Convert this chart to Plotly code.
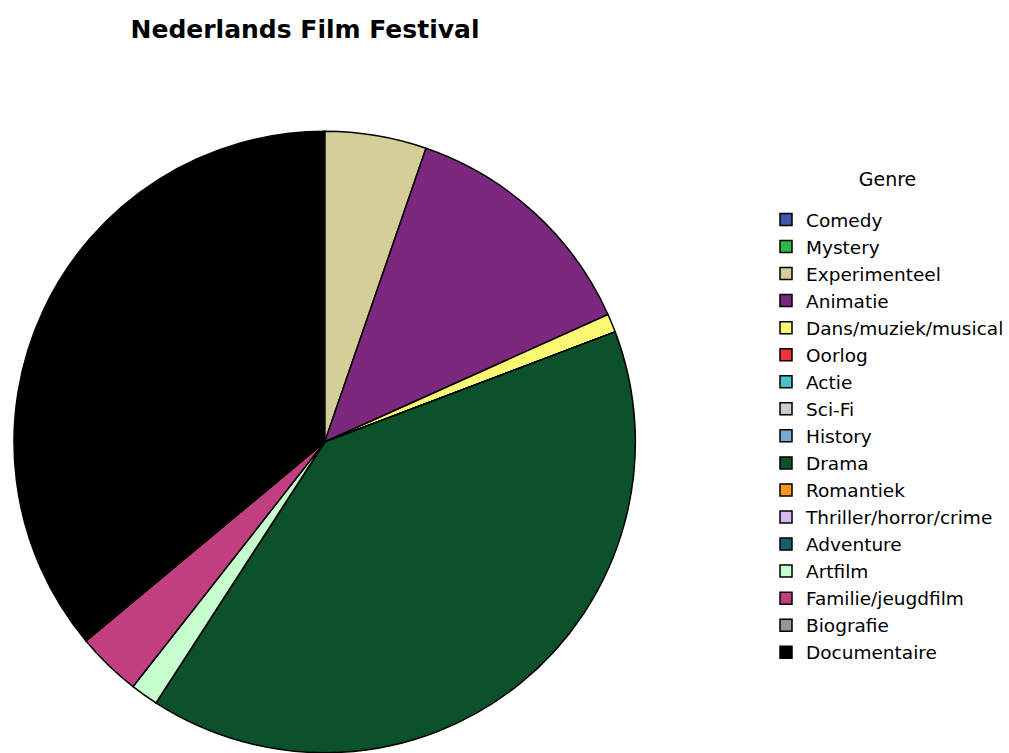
import plotly.graph_objects as go

genres = ["Comedy", "Mystery", "Experimenteel", "Animatie", "Dans/muziek/musical",
          "Oorlog", "Actie", "Sci-Fi", "History", "Drama", "Romantiek",
          "Thriller/horror/crime", "Adventure", "Artfilm", "Familie/jeugdfilm",
          "Biografie", "Documentaire"]
counts = [0, 0, 11, 27, 2, 0, 0, 0, 0, 83, 0, 0, 0, 3, 7, 0, 75]
colors = ["#3e58ac", "#2eb848", "#d4ce99", "#7b287e", "#fbf873", "#ef3338",
          "#48c2c5", "#cccccc", "#7ba9d6", "#0b5129", "#fa961e", "#d9b8f1",
          "#136072", "#c6fecd", "#c13f81", "#959595", "#000000"]

fig = go.Figure(go.Pie(
    labels=genres, values=counts, sort=False, direction="clockwise", rotation=0,
    marker=dict(colors=colors, line=dict(color="black", width=1.5)),
    textinfo="none", hoverinfo="label+value",
    domain=dict(x=[14/1009, 636/1009], y=[0, (753-131)/753]),
))

fig.update_layout(
    width=1009, height=753,
    margin=dict(l=0, r=0, t=0, b=0),
    paper_bgcolor="white", plot_bgcolor="white",
    title=dict(text="<b>Nederlands Film Festival</b>", x=305/1009, xanchor="center",
               y=1-29/753, yanchor="middle",
               font=dict(family="DejaVu Sans", size=25, color="black")),
    legend=dict(
        x=767/1009, xanchor="left", y=1-171/753, yanchor="top",
        font=dict(family="DejaVu Sans", size=18.5, color="black"),
        title=dict(text="<span style='font-size:19px'>Genre</span><br> ", side="top center",
                   font=dict(family="DejaVu Sans", size=11.5, color="black")),
        bgcolor="rgba(0,0,0,0)", traceorder="normal",
    ),
    showlegend=True,
)

fig.write_html("out.html")
